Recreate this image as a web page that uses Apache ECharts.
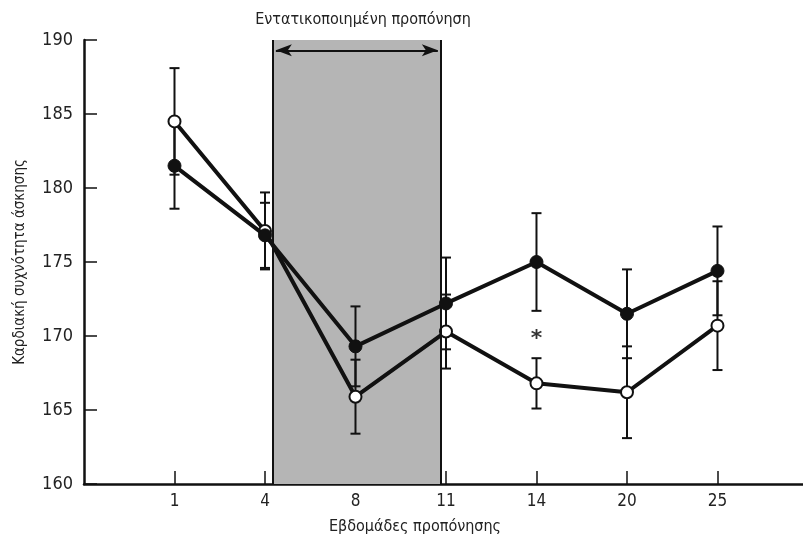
<!DOCTYPE html>
<html>
<head>
<meta charset="utf-8">
<script src="https://cdn.jsdelivr.net/npm/echarts@6/dist/echarts.min.js"></script>
<style>html,body{margin:0;padding:0;background:#fff;}#c{width:803px;height:541px;}</style>
</head>
<body>
<div id="c"></div>
<script>
var weeks = ['1', '4', '8', '11', '14', '20', '25'];
var filledMean = [181.5, 176.8, 169.3, 172.2, 175.0, 171.5, 174.4];
var filledErr = [2.9, 2.2, 2.7, 3.1, 3.3, 3.0, 3.0];
var openMean = [184.5, 177.1, 165.9, 170.3, 166.8, 166.2, 170.7];
var openErr = [3.6, 2.6, 2.5, 2.5, 1.7, 3.1, 3.0];
var yTicks = [160, 165, 170, 175, 180, 185, 190];
var intensiveStart = 2.09, intensiveEnd = 3.94;
var starWeek = 4, starValue = 170;

var FONT = '"Liberation Sans Narrow", "DejaVu Sans Condensed", Arial, sans-serif';

function pts(arr) { return arr.map(function (v, i) { return [i + 1, v]; }); }
function errData(mean, err) { return mean.map(function (v, i) { return [i + 1, v - err[i], v + err[i]]; }); }

function renderErr(params, api) {
  var x = api.value(0);
  var lo = api.coord([x, api.value(1)]);
  var hi = api.coord([x, api.value(2)]);
  var w = 5;
  var st = { stroke: '#111', lineWidth: 2 };
  return {
    type: 'group',
    children: [
      { type: 'line', shape: { x1: lo[0], y1: lo[1], x2: hi[0], y2: hi[1] }, style: st },
      { type: 'line', shape: { x1: lo[0] - w, y1: lo[1], x2: lo[0] + w, y2: lo[1] }, style: st },
      { type: 'line', shape: { x1: hi[0] - w, y1: hi[1], x2: hi[0] + w, y2: hi[1] }, style: st }
    ]
  };
}

var chart = echarts.init(document.getElementById('c'), null, { renderer: 'canvas' });
chart.setOption({
  animation: false,
  backgroundColor: '#fff',
  title: [
    {
      text: 'Εντατικοποιημένη προπόνηση',
      left: 358, top: 7, textAlign: 'center',
      textStyle: { fontFamily: FONT, fontSize: 16, fontWeight: 'normal', color: '#222' }
    },
    {
      text: 'Εβδομάδες προπόνησης',
      left: 410, top: 514, textAlign: 'center',
      textStyle: { fontFamily: FONT, fontSize: 16, fontWeight: 'normal', color: '#222' }
    }
  ],
  grid: { left: 84, right: 0, top: 40, bottom: 57, containLabel: false, outerBoundsMode: 'none' },
  xAxis: {
    type: 'value', min: 0, max: 7.945, interval: 1,
    splitLine: { show: false },
    axisLine: { lineStyle: { color: '#111', width: 2.5 } },
    axisTick: { inside: true, length: 13, customValues: [1, 2, 3, 4, 5, 6, 7], lineStyle: { color: '#111', width: 1.5 } },
    axisLabel: {
      customValues: [1, 2, 3, 4, 5, 6, 7], margin: 9,
      fontFamily: FONT, fontSize: 17, color: '#222',
      formatter: function (v) { return weeks[Math.round(v) - 1] || ''; }
    }
  },
  yAxis: {
    type: 'value', min: 160, max: 190, interval: 5,
    name: 'Καρδιακή συχνότητα άσκησης', nameLocation: 'middle', nameGap: 56,
    nameTextStyle: { fontFamily: FONT, fontSize: 15, color: '#222' },
    splitLine: { show: false },
    axisLine: { show: true, lineStyle: { color: '#111', width: 2.5 } },
    axisTick: { inside: true, length: 13, lineStyle: { color: '#111', width: 1.5 } },
    axisLabel: {
      margin: 11, fontFamily: FONT, fontSize: 18, color: '#222',
      formatter: function (v) { return yTicks.indexOf(v) >= 0 ? String(v) : ''; }
    }
  },
  series: [
    {
      type: 'custom', name: 'shade', data: [], z: 1, silent: true,
      markArea: {
        silent: true,
        itemStyle: { color: '#b5b5b5', opacity: 1 },
        data: [[{ coord: [intensiveStart, 190] }, { coord: [intensiveEnd, 160] }]]
      },
      markLine: {
        silent: true, symbol: ['none', 'none'],
        label: { show: false },
        lineStyle: { color: '#111', width: 2, type: 'solid' },
        data: [{ xAxis: intensiveStart }, { xAxis: intensiveEnd }]
      },
      renderItem: function () { return null; }
    },
    {
      type: 'custom', name: 'arrow', data: [], z: 2, silent: true,
      markLine: {
        silent: true, symbol: ['arrow', 'arrow'], symbolSize: [9, 16],
        label: { show: false },
        lineStyle: { color: '#111', width: 2, type: 'solid' },
        data: [[{ coord: [intensiveStart + 0.03, 189.3] }, { coord: [intensiveEnd - 0.03, 189.3] }]]
      },
      renderItem: function () { return null; }
    },
    { type: 'custom', name: 'errOpen', data: errData(openMean, openErr), renderItem: renderErr, z: 3, silent: true },
    { type: 'custom', name: 'errFilled', data: errData(filledMean, filledErr), renderItem: renderErr, z: 3, silent: true },
    {
      type: 'line', name: 'open', data: pts(openMean), z: 4,
      symbol: 'circle', symbolSize: 12, showAllSymbol: true,
      lineStyle: { color: '#111', width: 4 },
      itemStyle: { color: '#fff', borderColor: '#111', borderWidth: 2 }
    },
    {
      type: 'line', name: 'filled', data: pts(filledMean), z: 5,
      symbol: 'circle', symbolSize: 13, showAllSymbol: true,
      lineStyle: { color: '#111', width: 4 },
      itemStyle: { color: '#111', borderColor: '#111', borderWidth: 1 }
    },
    {
      type: 'scatter', name: 'star', data: [[starWeek + 1, starValue]], z: 6, symbolSize: 0,
      label: { show: true, position: 'inside', formatter: '*', fontFamily: 'DejaVu Sans', fontSize: 22, fontWeight: 'bold', color: '#000', offset: [0, 3] }
    }
  ]
});
</script>
</body>
</html>
